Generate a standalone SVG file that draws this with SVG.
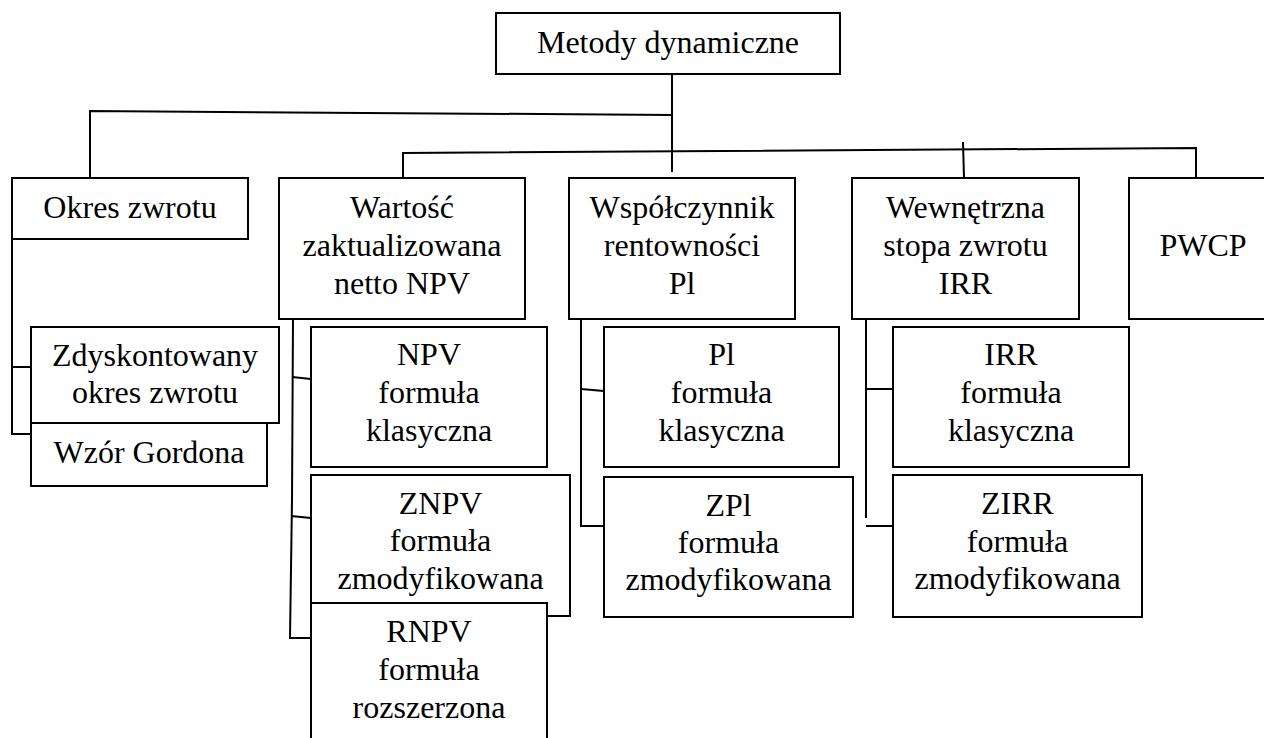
<svg xmlns="http://www.w3.org/2000/svg" width="1264" height="738" viewBox="0 0 1264 738">
  <style>
    .box { fill: #ffffff; stroke: #000000; stroke-width: 2; }
    .wire { fill: none; stroke: #000000; stroke-width: 2; }
    text { font-family: "Liberation Serif", "Times New Roman", serif; font-size: 32px; fill: #000000; text-anchor: middle; }
  </style>
  <rect width="1264" height="738" fill="#ffffff"/>

  <!-- connectors -->
  <g id="connectors">
    <!-- trunk from the root -->
    <polyline class="wire" points="672,74 672,172"/>
    <!-- upper bus to "Okres zwrotu" -->
    <polyline class="wire" points="90,189 90,111 672,115"/>
    <!-- lower bus to the other four methods -->
    <polyline class="wire" points="403,189 403,153 1196,148 1196,189"/>
    <line class="wire" x1="963" y1="142" x2="964" y2="178"/>
    <!-- payback period branches -->
    <polyline class="wire" points="12,239 12,434 31,434"/>
    <line class="wire" x1="12" y1="367" x2="31" y2="367"/>
    <!-- NPV branches -->
    <polyline class="wire" points="293,317 292,500 290,638 311,638"/>
    <line class="wire" x1="292" y1="377" x2="311" y2="379"/>
    <line class="wire" x1="291" y1="516" x2="311" y2="518"/>
    <!-- PI branches -->
    <polyline class="wire" points="581,317 581,526 604,526"/>
    <line class="wire" x1="581" y1="389" x2="604" y2="391"/>
    <!-- IRR branches -->
    <line class="wire" x1="866" y1="319" x2="866" y2="518"/>
    <line class="wire" x1="866" y1="389" x2="893" y2="389"/>
    <line class="wire" x1="866" y1="526" x2="893" y2="526"/>
  </g>

  <g id="root">
    <rect class="box" x="496" y="13" width="344" height="61"/>
    <text x="668" y="53">Metody dynamiczne</text>
  </g>

  <g id="okres">
    <rect class="box" x="12" y="178" width="236" height="61"/>
    <text x="130" y="218">Okres zwrotu</text>
  </g>

  <g id="npv">
    <rect class="box" x="279" y="178" width="246" height="141"/>
    <text x="402" y="218">Wartość</text>
    <text x="402" y="256">zaktualizowana</text>
    <text x="402" y="294">netto NPV</text>
  </g>

  <g id="pi">
    <rect class="box" x="569" y="178" width="226" height="141"/>
    <text x="682" y="218">Współczynnik</text>
    <text x="682" y="256">rentowności</text>
    <text x="682" y="294">Pl</text>
  </g>

  <g id="irr">
    <rect class="box" x="852" y="178" width="227" height="141"/>
    <text x="965.5" y="218">Wewnętrzna</text>
    <text x="965.5" y="256">stopa zwrotu</text>
    <text x="965.5" y="294">IRR</text>
  </g>

  <g id="pwcp">
    <rect class="box" x="1129" y="178" width="150" height="141"/>
    <text x="1203" y="256">PWCP</text>
  </g>

  <g id="zdyskontowany">
    <rect class="box" x="31" y="327" width="248" height="96"/>
    <text x="155" y="366">Zdyskontowany</text>
    <text x="155" y="403">okres zwrotu</text>
  </g>

  <g id="gordon">
    <rect class="box" x="31" y="423" width="236" height="63"/>
    <text x="149" y="463">Wzór Gordona</text>
  </g>

  <g id="npv-klasyczna">
    <rect class="box" x="311" y="327" width="236" height="140"/>
    <text x="429" y="365">NPV</text>
    <text x="429" y="403">formuła</text>
    <text x="429" y="441">klasyczna</text>
  </g>

  <g id="znpv">
    <rect class="box" x="311" y="475" width="259" height="141"/>
    <text x="440.5" y="514">ZNPV</text>
    <text x="440.5" y="551">formuła</text>
    <text x="440.5" y="589">zmodyfikowana</text>
  </g>

  <g id="rnpv">
    <rect class="box" x="311" y="603" width="236" height="150"/>
    <text x="429" y="642">RNPV</text>
    <text x="429" y="680">formuła</text>
    <text x="429" y="718">rozszerzona</text>
  </g>

  <g id="pi-klasyczna">
    <rect class="box" x="604" y="327" width="235" height="140"/>
    <text x="721.5" y="365">Pl</text>
    <text x="721.5" y="403">formuła</text>
    <text x="721.5" y="441">klasyczna</text>
  </g>

  <g id="zpi">
    <rect class="box" x="604" y="477" width="249" height="140"/>
    <text x="728.5" y="516">ZPl</text>
    <text x="728.5" y="553">formuła</text>
    <text x="728.5" y="590">zmodyfikowana</text>
  </g>

  <g id="irr-klasyczna">
    <rect class="box" x="893" y="327" width="236" height="140"/>
    <text x="1011" y="365">IRR</text>
    <text x="1011" y="403">formuła</text>
    <text x="1011" y="441">klasyczna</text>
  </g>

  <g id="zirr">
    <rect class="box" x="893" y="475" width="249" height="142"/>
    <text x="1017.5" y="514">ZIRR</text>
    <text x="1017.5" y="552">formuła</text>
    <text x="1017.5" y="589">zmodyfikowana</text>
  </g>
</svg>
